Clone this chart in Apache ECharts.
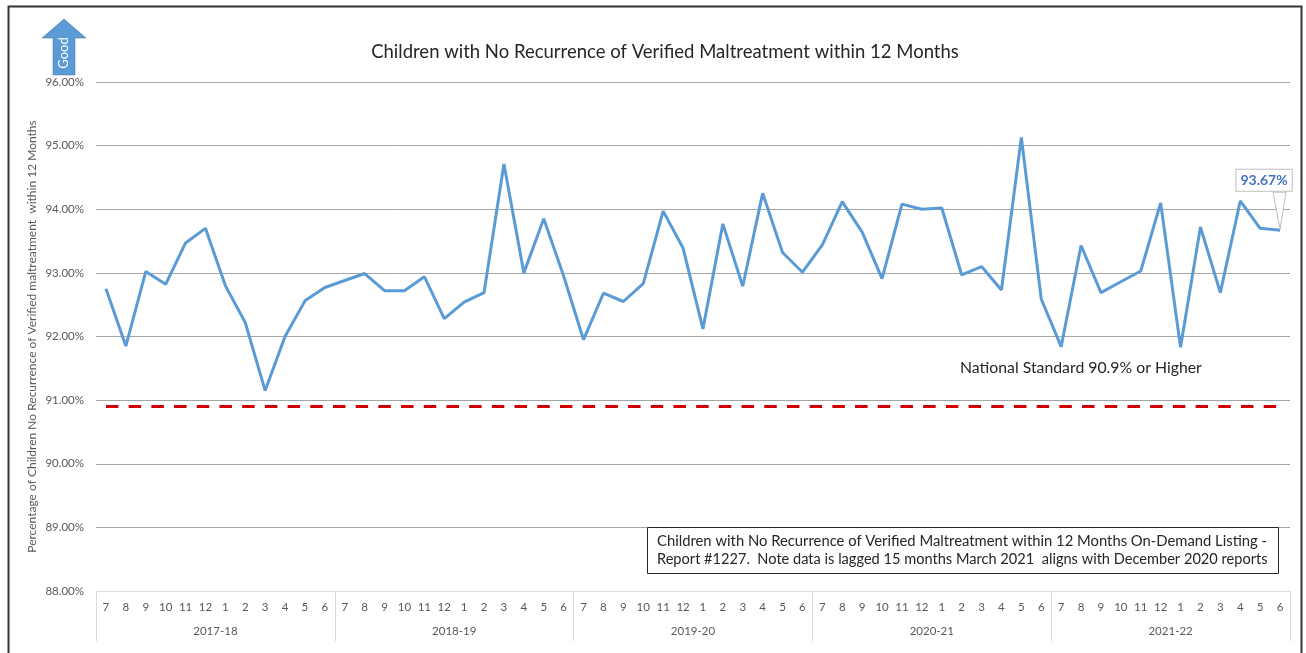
<!DOCTYPE html>
<html>
<head>
<meta charset="utf-8">
<script src="https://cdn.jsdelivr.net/npm/echarts@6/dist/echarts.min.js"></script>
<style>
html,body{margin:0;padding:0;background:#fff;}
#chart{width:1306px;height:653px;}
</style>
</head>
<body>
<div id="chart"></div>
<script>
const monthLabels = ['7','8','9','10','11','12','1','2','3','4','5','6'];
const years = ['2017-18','2018-19','2019-20','2020-21','2021-22'];
const fy2017 = [92.75, 91.85, 93.02, 92.82, 93.47, 93.70, 92.80, 92.22, 91.15, 92.00, 92.56, 92.77];
const fy2018 = [92.88, 92.99, 92.72, 92.72, 92.94, 92.28, 92.54, 92.69, 94.71, 93.00, 93.85, 92.95];
const fy2019 = [91.95, 92.68, 92.55, 92.83, 93.97, 93.39, 92.12, 93.77, 92.79, 94.25, 93.32, 93.01];
const fy2020 = [93.44, 94.12, 93.64, 92.91, 94.08, 94.00, 94.02, 92.97, 93.10, 92.73, 95.13, 92.59];
const fy2021 = [91.84, 93.43, 92.69, 92.86, 93.03, 94.10, 91.83, 93.72, 92.69, 94.13, 93.70, 93.67];
const nationalStandard = 90.9;
const yMin = 88, yMax = 96, yStep = 1;

const categories = [];
years.forEach(y => monthLabels.forEach(m => categories.push(m)));
const values = [].concat(fy2017, fy2018, fy2019, fy2020, fy2021);
const last = values.length - 1;
const FONT = 'Lato, "Open Sans", sans-serif';

const chart = echarts.init(document.getElementById('chart'));
const staticGraphics = [
  { type: 'rect', left: 6, top: 4, shape: { width: 1293, height: 660 }, style: { fill: 'none', stroke: '#333', lineWidth: 2 }, silent: true },
  { type: 'polygon', shape: { points: [[53,75],[53,38],[42,38],[64,19],[86,38],[75,38],[75,75]] },
    style: { fill: '#5b9bd5', stroke: '#41719c', lineWidth: 0.5 } },
  { type: 'text', x: 64, y: 53, rotation: Math.PI / 2,
    style: { text: 'Good', fill: '#fff', font: '13px ' + FONT, textAlign: 'center', textVerticalAlign: 'middle' } },
  { type: 'text', x: 960, y: 368,
    style: { text: 'National Standard 90.9% or Higher', fill: '#262626', font: '15.8px ' + FONT, textAlign: 'left', textVerticalAlign: 'middle' } },
  { type: 'rect', left: 647, top: 527, shape: { width: 631, height: 46 }, style: { fill: '#fff', stroke: '#262626', lineWidth: 1 }, z: 10 },
  { type: 'text', x: 657, y: 541, z: 11,
    style: { text: 'Children with No Recurrence of Verified Maltreatment within 12 Months On-Demand Listing -', fill: '#262626', font: '14.8px ' + FONT, textVerticalAlign: 'middle' } },
  { type: 'text', x: 657, y: 559, z: 11,
    style: { text: 'Report #1227.  Note data is lagged 15 months March 2021  aligns with December 2020 reports', fill: '#262626', font: '14.6px ' + FONT, textVerticalAlign: 'middle' } }
];

chart.setOption({
  animation: false,
  backgroundColor: '#fff',
  title: {
    text: 'Children with No Recurrence of Verified Maltreatment within 12 Months',
    left: 660, textAlign: 'center', top: 38,
    textStyle: { fontFamily: FONT, fontSize: 18.5, fontWeight: 'normal', color: '#262626' }
  },
  grid: { left: 96, right: 16, top: 82, bottom: 62 },
  xAxis: [
    {
      type: 'category', data: categories, position: 'bottom',
      axisLine: { show: true, lineStyle: { color: '#d9d9d9', width: 1 } },
      axisTick: { show: false },
      axisLabel: { interval: 0, margin: 10, fontFamily: FONT, fontSize: 11.5, color: '#595959' },
      splitLine: { show: false }
    },
    {
      type: 'category', data: years, position: 'bottom', gridIndex: 0,
      axisLine: { show: false },
      axisTick: { show: true, interval: 0, length: 50, lineStyle: { color: '#d9d9d9', width: 1 } },
      axisLabel: { interval: 0, margin: 34, fontFamily: FONT, fontSize: 11.5, color: '#595959' },
      splitLine: { show: false }
    }
  ],
  yAxis: {
    type: 'value', min: yMin, max: yMax, interval: yStep,
    name: 'Percentage of Children No Recurrence of Verified maltreatment  within 12 Months',
    nameLocation: 'middle', nameGap: 58, nameRotate: 90, nameMoveOverlap: false,
    nameTextStyle: { fontFamily: FONT, fontSize: 12, color: '#595959' },
    axisLine: { show: false }, axisTick: { show: false },
    axisLabel: { formatter: v => v.toFixed(2) + '%', margin: 12, fontFamily: FONT, fontSize: 11.5, color: '#595959' },
    splitLine: { show: true, lineStyle: { color: ['#d9d9d9','#a6a6a6','#a6a6a6','#a6a6a6','#a6a6a6','#a6a6a6','#a6a6a6','#a6a6a6','#a6a6a6'], width: 1 } }
  },
  series: [
    {
      type: 'line', xAxisIndex: 0,
      data: values,
      symbol: 'none', smooth: false,
      lineStyle: { color: '#5b9bd5', width: 3 },
      endLabel: {
        show: true, distance: 0, align: 'center', verticalAlign: 'middle', offset: [-16, -50],
        formatter: p => p.value.toFixed(2) + '%',
        fontFamily: FONT, fontSize: 14, fontWeight: 'bold', color: '#4472c4',
        backgroundColor: '#fff', borderColor: '#bfbfbf', borderWidth: 1, padding: [4, 4, 3, 4]
      },
      markLine: {
        silent: true, symbol: 'none',
        lineStyle: { color: '#d00000', width: 3.2, type: [12.5, 10.2] },
        label: { show: false },
        data: [[{ coord: [0, nationalStandard] }, { coord: [last, nationalStandard] }]]
      },
      z: 3
    }
  ],
  graphic: staticGraphics
});

// callout tail from the end label to the last point, positioned via the chart's scales
const pt = chart.convertToPixel({ xAxisIndex: 0, yAxisIndex: 0 }, [last, values[last]]);
chart.setOption({
  graphic: staticGraphics.concat([
    { type: 'polygon', z: 100, shape: { points: [[pt[0] - 7, pt[1] - 38], [pt[0] + 6, pt[1] - 38], [pt[0], pt[1] - 1]] },
      style: { fill: '#fff', stroke: '#bfbfbf', lineWidth: 1 } }
  ])
});
</script>
</body>
</html>
